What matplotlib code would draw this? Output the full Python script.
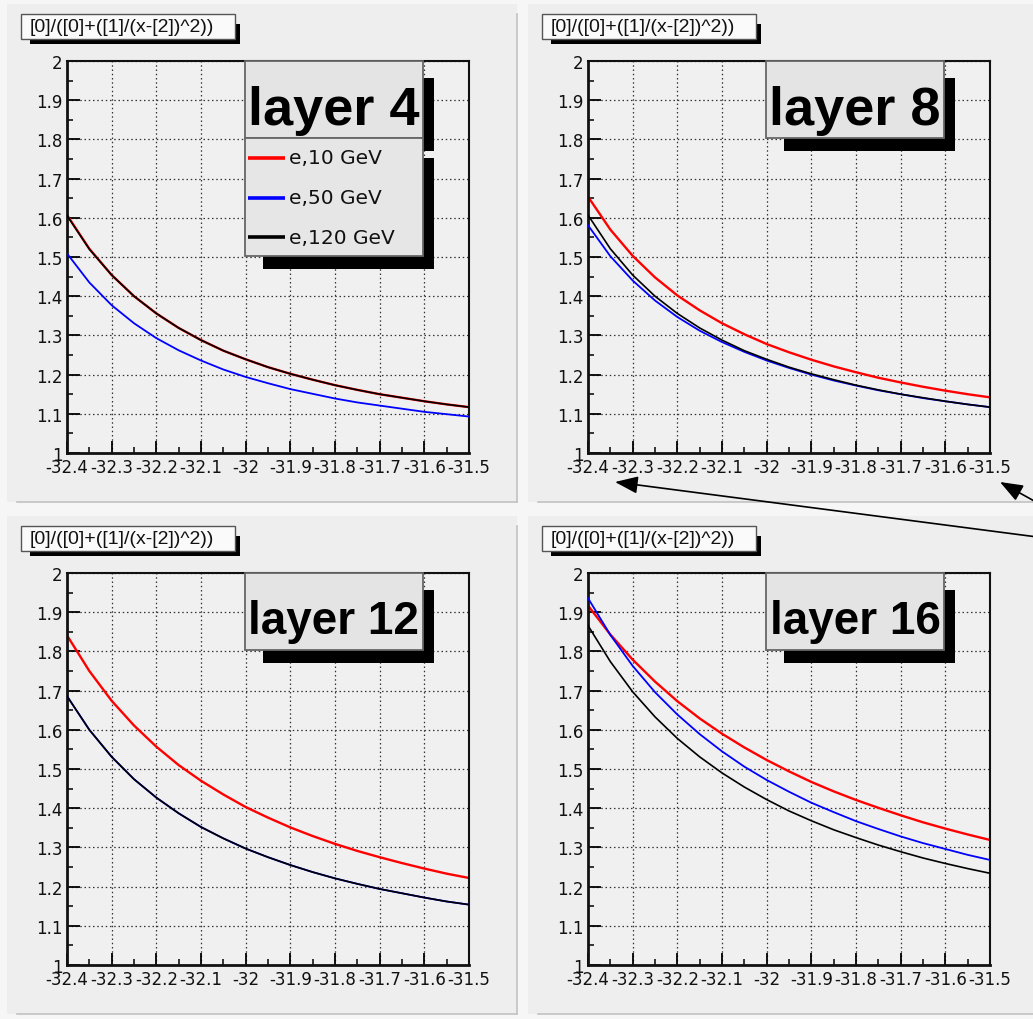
import matplotlib
matplotlib.use("Agg")
import matplotlib.pyplot as plt
from matplotlib.patches import Rectangle, Polygon, FancyArrowPatch
from matplotlib.lines import Line2D
from matplotlib.ticker import FixedLocator, MultipleLocator

plt.rcParams['axes.unicode_minus'] = False

# ---- data -------------------------------------------------------------
x_samples = [-32.40, -32.35, -32.30, -32.25, -32.20, -32.15, -32.10, -32.05, -32.00,
             -31.95, -31.90, -31.85, -31.80, -31.75, -31.70, -31.65, -31.60, -31.55, -31.50]
x_ticks = [-32.4, -32.3, -32.2, -32.1, -32.0, -31.9, -31.8, -31.7, -31.6, -31.5]
x_tick_labels = ["-32.4", "-32.3", "-32.2", "-32.1", "-32", "-31.9", "-31.8", "-31.7", "-31.6", "-31.5"]
y_ticks = [1.0, 1.1, 1.2, 1.3, 1.4, 1.5, 1.6, 1.7, 1.8, 1.9, 2.0]
y_tick_labels = ["1", "1.1", "1.2", "1.3", "1.4", "1.5", "1.6", "1.7", "1.8", "1.9", "2"]

formula = "[0]/([0]+([1]/(x-[2])^2))"
layer_names = ["layer 4", "layer 8", "layer 12", "layer 16"]
series_labels = ["e,10 GeV", "e,50 GeV", "e,120 GeV"]
series_colors = ["#ff0000", "#0000ff", "#000000"]

layer4_e10 = [1.607, 1.521, 1.454, 1.400, 1.356, 1.319, 1.288, 1.261, 1.239, 1.219,
              1.202, 1.187, 1.173, 1.161, 1.150, 1.141, 1.132, 1.124, 1.117]
layer4_e50 = [1.509, 1.435, 1.377, 1.331, 1.293, 1.262, 1.236, 1.213, 1.194, 1.178,
              1.163, 1.151, 1.139, 1.129, 1.121, 1.113, 1.105, 1.099, 1.093]
layer4_e120 = [1.606, 1.520, 1.454, 1.400, 1.356, 1.319, 1.288, 1.261, 1.239, 1.219,
               1.202, 1.187, 1.173, 1.161, 1.150, 1.141, 1.132, 1.124, 1.117]

layer8_e10 = [1.654, 1.570, 1.503, 1.448, 1.402, 1.364, 1.331, 1.303, 1.278, 1.257,
              1.238, 1.221, 1.206, 1.192, 1.180, 1.169, 1.159, 1.150, 1.142]
layer8_e50 = [1.581, 1.502, 1.440, 1.389, 1.347, 1.312, 1.283, 1.258, 1.236, 1.217,
              1.200, 1.185, 1.172, 1.160, 1.150, 1.140, 1.132, 1.124, 1.117]
layer8_e120 = [1.607, 1.521, 1.454, 1.400, 1.356, 1.319, 1.288, 1.261, 1.239, 1.219,
               1.202, 1.187, 1.173, 1.161, 1.150, 1.141, 1.132, 1.124, 1.117]

layer12_e10 = [1.841, 1.750, 1.674, 1.611, 1.557, 1.510, 1.470, 1.435, 1.403, 1.376,
               1.351, 1.329, 1.309, 1.291, 1.275, 1.260, 1.246, 1.233, 1.222]
layer12_e50 = [1.686, 1.600, 1.531, 1.474, 1.427, 1.387, 1.352, 1.323, 1.297, 1.275,
               1.255, 1.237, 1.221, 1.207, 1.194, 1.183, 1.172, 1.162, 1.154]
layer12_e120 = [1.686, 1.600, 1.531, 1.474, 1.427, 1.387, 1.352, 1.323, 1.297, 1.275,
                1.255, 1.237, 1.221, 1.207, 1.194, 1.183, 1.172, 1.162, 1.154]

layer16_e10 = [1.917, 1.843, 1.779, 1.723, 1.673, 1.629, 1.590, 1.555, 1.523, 1.494,
               1.467, 1.443, 1.421, 1.401, 1.382, 1.364, 1.348, 1.333, 1.319]
layer16_e50 = [1.936, 1.842, 1.763, 1.696, 1.639, 1.589, 1.545, 1.506, 1.472, 1.442,
               1.414, 1.390, 1.367, 1.347, 1.328, 1.311, 1.296, 1.281, 1.268]
layer16_e120 = [1.866, 1.774, 1.697, 1.633, 1.578, 1.531, 1.490, 1.454, 1.422, 1.393,
                1.368, 1.345, 1.325, 1.306, 1.289, 1.273, 1.259, 1.246, 1.234]

panel_series = [
    [layer4_e10, layer4_e50, layer4_e120],
    [layer8_e10, layer8_e50, layer8_e120],
    [layer12_e10, layer12_e50, layer12_e120],
    [layer16_e10, layer16_e50, layer16_e120],
]

# ---- canvas -----------------------------------------------------------
W, H = 1033, 1020
fig = plt.figure(figsize=(W / 100, H / 100), dpi=100, facecolor="#f6f6f6")


def fx(x):
    return x / W


def fy(y):
    return 1 - y / H


def rect_px(x0, y0, x1, y1, **kw):
    r = Rectangle((fx(x0), fy(y1)), fx(x1) - fx(x0), fy(y0) - fy(y1),
                  transform=fig.transFigure, **kw)
    fig.add_artist(r)
    return r


def shadow_px(x0, y0, x1, y1, thick_x, thick_y, start_x, start_y, z):
    pts = [(x1, y0 + start_y), (x1 + thick_x, y0 + start_y), (x1 + thick_x, y1 + thick_y),
           (x0 + start_x, y1 + thick_y), (x0 + start_x, y1), (x1, y1)]
    p = Polygon([(fx(a), fy(b)) for a, b in pts], closed=True, transform=fig.transFigure,
                facecolor="black", edgecolor="none", zorder=z)
    fig.add_artist(p)


def line_px(x0, y0, x1, y1, **kw):
    fig.add_artist(Line2D([fx(x0), fx(x1)], [fy(y0), fy(y1)], transform=fig.transFigure, **kw))


offsets = [(0, 0), (521, 0), (0, 512), (521, 512)]
big_sizes = [39, 39, 33, 33]
line_widths = [1.7, 1.3, 1.2]

for i, (ox, oy) in enumerate(offsets):
    # pad background with bevelled edges
    rect_px(7 + ox, 5 + oy, 517 + ox, 503 + oy, facecolor="#eeeeee", edgecolor="none", zorder=-10)
    line_px(17 + ox, 503 + oy, 517 + ox, 503 + oy, color="#c2c2c2", lw=1.2, zorder=-9)
    line_px(517 + ox, 15 + oy, 517 + ox, 503 + oy, color="#c2c2c2", lw=1.2, zorder=-9)

    # frame
    ax = fig.add_axes([fx(67 + ox), fy(454 + oy), 402 / W, 392 / H])
    ax.set_facecolor("#f0f0f0")
    ax.set_xlim(-32.4, -31.5)
    ax.set_ylim(1.0, 2.0)
    ax.xaxis.set_major_locator(FixedLocator(x_ticks))
    ax.yaxis.set_major_locator(FixedLocator(y_ticks))
    ax.xaxis.set_minor_locator(MultipleLocator(0.05))
    ax.yaxis.set_minor_locator(MultipleLocator(0.05))
    ax.set_xticklabels(x_tick_labels)
    ax.set_yticklabels(y_tick_labels)
    ax.tick_params(which="major", direction="in", length=9, width=1.3, top=False, right=False,
                   labelsize=12, labelcolor="#111111")
    ax.tick_params(which="minor", direction="in", length=4.5, width=1.1, top=False, right=False)
    ax.tick_params(axis="x", pad=3.5)
    ax.tick_params(axis="y", pad=3)
    ax.grid(True, which="major", linestyle=(0, (1.2, 2.2)), color="#333333", lw=0.9)
    ax.set_axisbelow(True)
    for side, sp in ax.spines.items():
        sp.set_linewidth(2.0 if side in ("left", "bottom") else 1.5)
        sp.set_color("#111111")

    # curves, drawn in series order
    for k, (vals, col) in enumerate(zip(panel_series[i], series_colors)):
        ax.plot(x_samples, vals, color=col, lw=line_widths[k], zorder=2 + k,
                solid_joinstyle="round")

    # formula title box
    shadow_px(21 + ox, 15 + oy, 235 + ox, 40 + oy, 5, 5, 9, 10, z=4)
    rect_px(21 + ox, 15 + oy, 235 + ox, 40 + oy, facecolor="#fafafa", edgecolor="#555555",
            lw=1.0, zorder=5)
    fig.text(fx(30 + ox), fy(28 + oy), formula, fontsize=14, family="Liberation Sans",
             color="#111111", ha="left", va="center", zorder=6)

    # layer label box
    bx0, bx1 = 245 + ox, 423 + ox
    by0, by1 = 62 + oy, 139 + oy
    shadow_px(bx0, by0, bx1, by1, 11, 13, 18, 17, z=4)
    rect_px(bx0, by0, bx1, by1, facecolor="#e4e4e4", edgecolor="#666666", lw=1.3, zorder=5)
    baseline = 125 + oy if i < 2 else 122 + oy
    fig.text(fx((bx0 + bx1) / 2), fy(baseline), layer_names[i], fontsize=big_sizes[i],
             family="Liberation Sans", weight="bold", color="black",
             ha="center", va="baseline", zorder=6)

    # legend (first pad only)
    if i == 0:
        ly0, ly1 = 139 + oy, 257 + oy
        shadow_px(bx0, ly0, bx1, ly1, 11, 13, 18, 20, z=4)
        rect_px(bx0, ly0, bx1, ly1, facecolor="#e6e6e6", edgecolor="#666666", lw=1.3, zorder=5)
        for k, (lab, col) in enumerate(zip(series_labels, series_colors)):
            yy = 159 + 39.5 * k + oy
            line_px(248 + ox, yy, 285 + ox, yy, color=col, lw=2.6, zorder=6,
                    solid_capstyle="butt")
            fig.text(fx(289 + ox), fy(yy), lab, fontsize=14.5, family="DejaVu Sans",
                     color="#111111", ha="left", va="center", zorder=6)

# arrows pointing at the end labels of the second pad
arrow_kw = dict(arrowstyle="-|>,head_length=1.0,head_width=0.38", mutation_scale=14,
                color="black", lw=1.2, shrinkA=0, shrinkB=0)
for tail, head in [((1045, 539), (615, 483)), ((1045, 508), (1000, 483))]:
    fig.add_artist(FancyArrowPatch(
        (fx(tail[0]), fy(tail[1])), (fx(head[0]), fy(head[1])),
        transform=fig.transFigure, zorder=8, **arrow_kw))

fig.savefig("out.png", dpi=100, facecolor=fig.get_facecolor())
